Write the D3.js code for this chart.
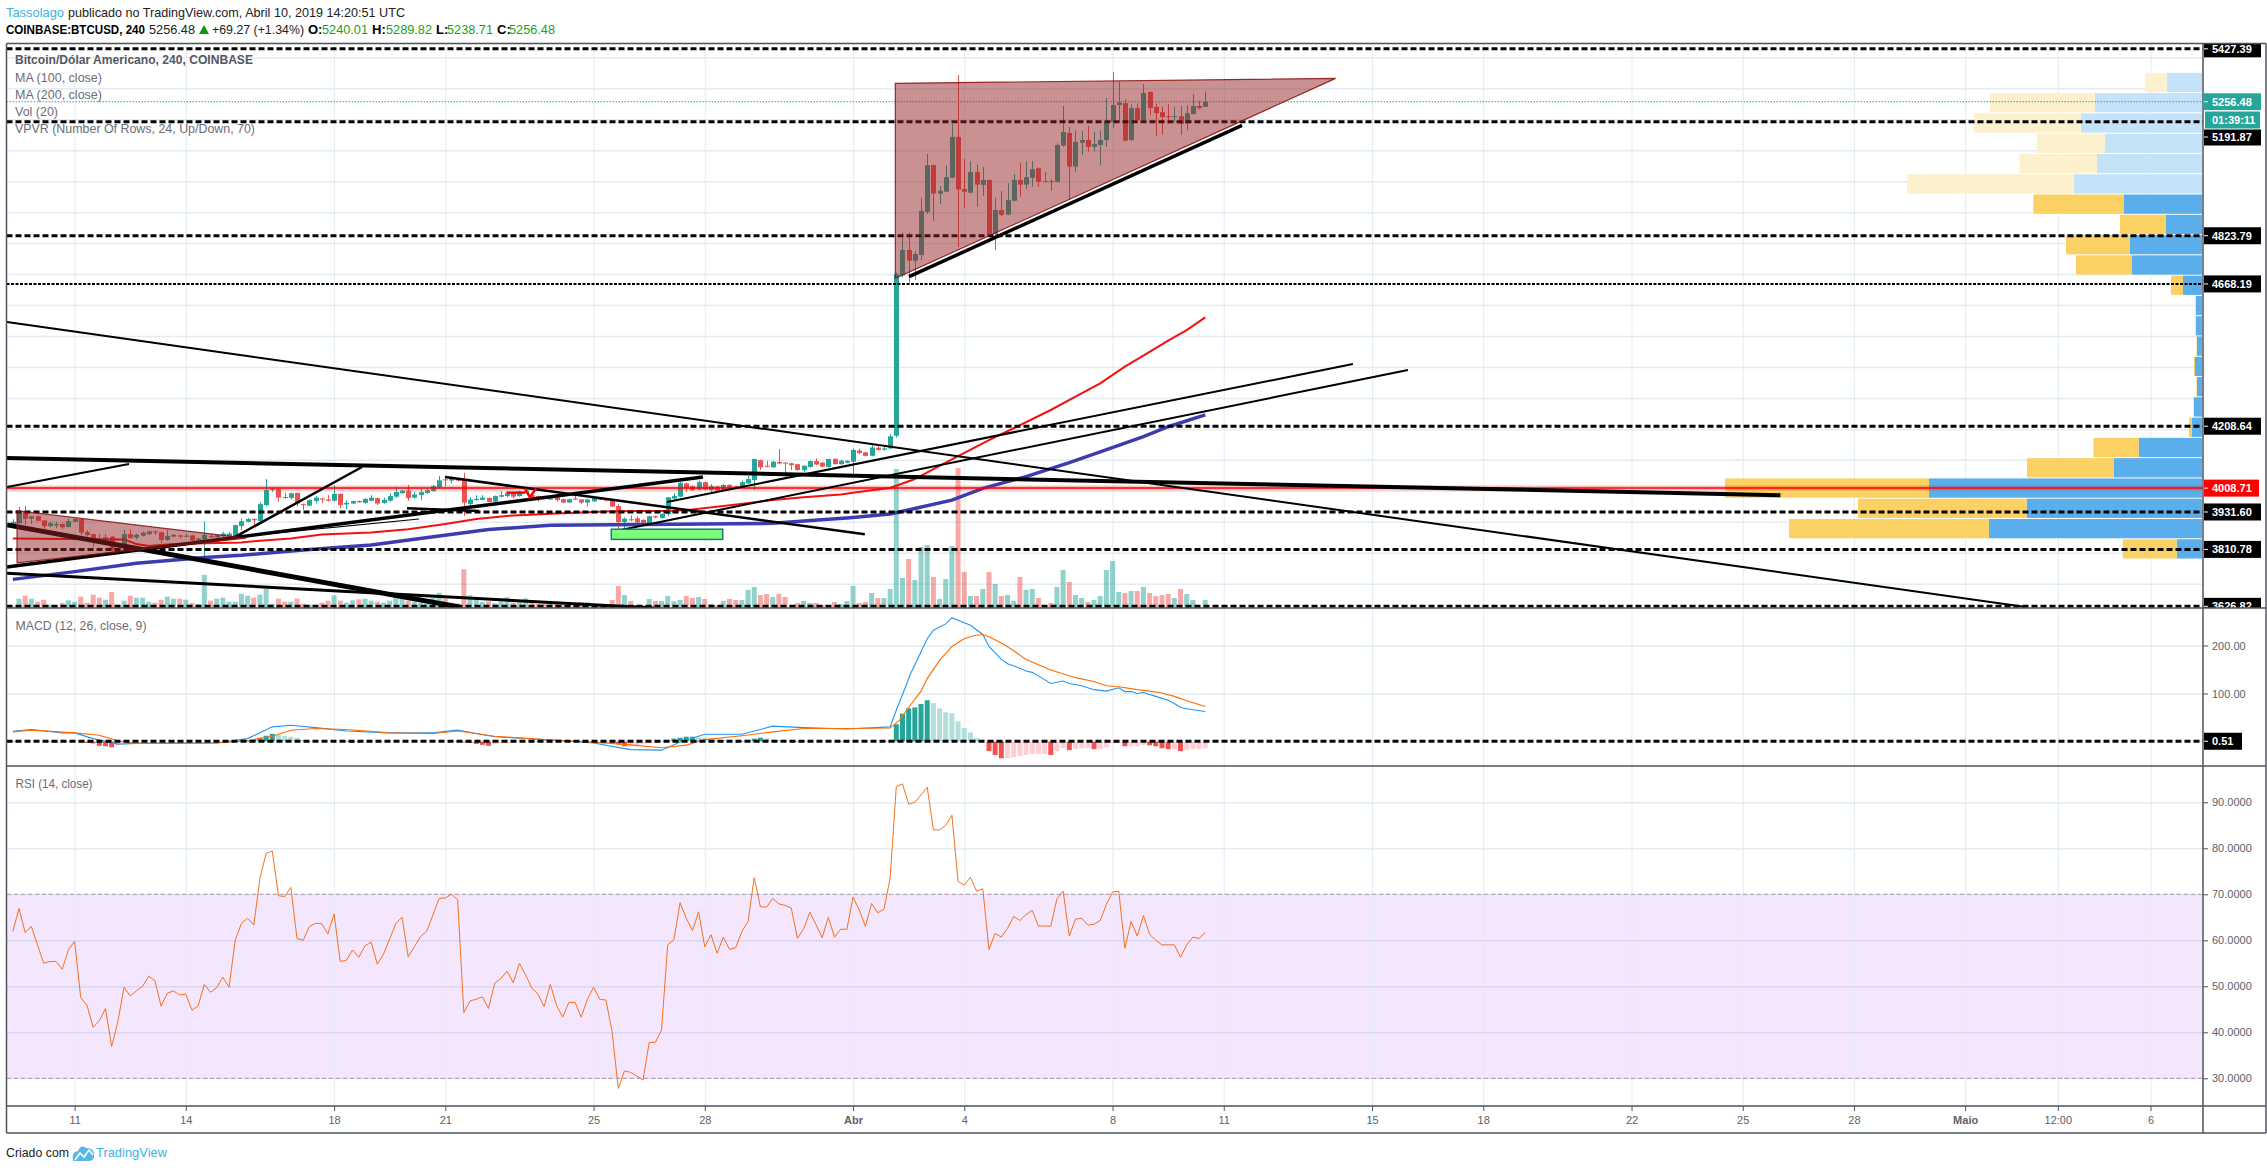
<!DOCTYPE html>
<html>
<head>
<meta charset="utf-8">
<script src="https://cdn.jsdelivr.net/npm/d3@7"></script>
<style>
  html, body { margin: 0; padding: 0; background: #fff; }
  svg text { font-family: "Liberation Sans", Arial, sans-serif; }
  .tick text { font-size: 11px; fill: #5d606b; }
  .grid .domain, .ax .domain { display: none; }
  .grid line { stroke: #e3ecf2; stroke-width: 1.5; }
  .ax line { stroke: #50535e; }
</style>
</head>
<body>
<svg id="chart" width="2267" height="1170"></svg>
<script>
// 4h bars, first one is Mar 9 08:00 UTC
const firstBar = Date.UTC(2019, 2, 9, 8);

const opens = [
  3893,3895,3932,3910,3918,3904,3886,3888,3893,3883,
  3900,3909,3867,3860,3845,3839,3852,3814,3826,3860,
  3849,3855,3860,3869,3866,3841,3852,3856,3853,3856,
  3839,3843,3854,3850,3854,3854,3854,3886,3900,3909,
  3902,3954,4003,4006,3980,3977,3993,3957,3952,3967,
  3975,3972,3968,3990,3956,3959,3967,3961,3968,3976,
  3961,3968,3981,3992,4001,3978,3986,3993,3999,4011,
  4037,4033,4038,4035,3957,3970,3971,3977,3965,3981,
  3983,3992,3983,3992,3986,3983,3979,3972,3979,3973,
  3962,3975,3972,3962,3966,3974,3972,3970,3951,3899,
  3908,3911,3906,3896,3918,3912,3925,3975,3981,4024,
  4015,4004,4028,4002,4014,4002,4019,4015,4013,4024,
  4035,4099,4081,4076,4093,4091,4089,4086,4067,4077,
  4096,4091,4077,4103,4086,4091,4094,4130,4124,4113,
  4139,4133,4137,4178,4696,4778,4743,4762,4901,5052,
  4960,4966,5011,5143,4975,4963,5030,4988,5004,4829,
  4907,4892,4937,5004,4989,5011,5042,5000,5000,4998,
  5115,5156,5047,5124,5133,5111,5117,5133,5191,5246,
  5252,5133,5236,5197,5288,5240,5223,5210,5207,5210,
  5187,5217,5243,5240];
const highs = [
  3908,3948,3951,3918,3920,3906,3900,3900,3895,3911,
  3910,3911,3873,3862,3860,3860,3854,3818,3873,3875,
  3862,3868,3870,3871,3868,3873,3860,3858,3862,3858,
  3848,3902,3860,3860,3868,3868,3891,3911,3912,3911,
  3962,4038,4011,4008,3994,3994,3995,3959,3972,3984,
  3977,3986,4018,3992,3970,3968,3969,3976,3986,3978,
  3978,3992,4013,4003,4019,3997,4006,4008,4019,4048,
  4045,4048,4043,4058,3979,3986,3986,3979,3985,3999,
  3997,3994,4000,4005,3988,3985,3981,3983,3981,3975,
  3975,3983,3974,3974,3981,3977,3974,3972,3957,3914,
  3921,3918,3908,3920,3920,3927,3980,3992,4028,4026,
  4017,4033,4030,4021,4016,4022,4021,4017,4033,4048,
  4103,4101,4097,4096,4135,4093,4091,4088,4083,4098,
  4105,4093,4103,4105,4100,4099,4137,4136,4126,4148,
  4148,4142,4183,4705,4834,4834,4775,4946,5088,5054,
  4984,5051,5185,5343,5072,5065,5055,5046,5006,4946,
  4968,4993,5023,5059,5065,5065,5044,5030,5007,5122,
  5243,5175,5165,5162,5178,5159,5165,5269,5353,5321,
  5264,5248,5251,5314,5290,5251,5240,5249,5240,5243,
  5246,5281,5259,5290];
const lows = [
  3890,3893,3889,3893,3902,3875,3882,3879,3875,3882,
  3899,3857,3852,3819,3839,3832,3805,3806,3809,3846,
  3843,3853,3858,3857,3830,3838,3850,3846,3850,3838,
  3837,3782,3848,3848,3851,3851,3852,3873,3898,3889,
  3900,3950,3996,3965,3975,3972,3949,3938,3950,3959,
  3961,3965,3965,3943,3941,3957,3961,3959,3966,3954,
  3958,3965,3978,3990,3968,3975,3970,3990,3997,4009,
  4015,4024,4030,3919,3951,3968,3969,3962,3963,3978,
  3979,3976,3981,3990,3972,3965,3972,3970,3965,3960,
  3960,3970,3957,3949,3964,3970,3966,3947,3862,3875,
  3902,3893,3895,3894,3912,3910,3918,3972,3979,3997,
  4000,4002,4002,3997,3998,4000,4005,4007,4011,4022,
  4003,4067,4076,4074,4085,4046,4067,4065,4061,4075,
  4083,4076,4075,4085,4084,4089,4056,4119,4111,4111,
  4130,4129,4135,4172,4689,4672,4681,4745,4894,4872,
  4926,4964,5009,4788,4913,4961,4918,4953,4826,4778,
  4887,4890,4935,4950,4975,4982,4982,4997,4969,4996,
  5111,4939,5031,5084,5095,5095,5052,5111,5172,5193,
  5129,5131,5189,5195,5214,5146,5150,5185,5192,5149,
  5165,5215,5232,5239];
const closes = [
  3900,3932,3909,3918,3903,3886,3895,3893,3882,3902,
  3909,3865,3857,3843,3843,3850,3809,3811,3860,3847,
  3858,3865,3869,3865,3841,3854,3858,3852,3855,3839,
  3846,3858,3850,3857,3862,3862,3889,3902,3909,3905,
  3957,4003,4006,3978,3977,3992,3959,3954,3970,3978,
  3972,3968,3990,3954,3961,3967,3963,3974,3978,3959,
  3971,3983,3996,4001,3977,3988,3996,4002,4015,4034,
  4034,4040,4033,3962,3972,3974,3978,3964,3983,3986,
  3992,3981,3998,4000,3979,3977,3976,3981,3970,3962,
  3973,3972,3962,3972,3979,3972,3968,3949,3899,3910,
  3905,3898,3897,3918,3914,3925,3979,3983,4026,4009,
  4002,4028,4004,4015,4000,4019,4007,4009,4028,4038,
  4103,4076,4078,4094,4088,4088,4083,4067,4081,4096,
  4085,4078,4103,4086,4097,4097,4132,4122,4113,4140,
  4132,4137,4176,4700,4778,4743,4765,4904,5052,4960,
  4969,5013,5143,4973,4966,5030,4989,5004,4826,4907,
  4891,4939,5004,4989,5013,5039,4998,4997,4998,5117,
  5159,5047,5127,5133,5111,5120,5133,5193,5246,5254,
  5131,5236,5197,5285,5236,5220,5207,5207,5210,5185,
  5220,5243,5236,5256];
const volumes = [
  1.5,9.3,12.3,9.3,6.3,8.3,3.3,2.3,5,7.7,
  6.3,11.3,5.3,13.3,10.3,8.3,16,3.3,7.3,12.3,
  10.3,10.3,6.3,5.3,8.3,11.3,9.3,9.3,8.3,5,
  4,33.3,7.3,9.3,10.3,6.3,6.3,14.3,12.3,10.3,
  13.3,19.3,4.3,9.3,6.3,6.3,9.3,4.3,3.3,3.3,
  5.3,7.3,12.7,7.3,5.3,7.7,8.7,9.3,7.3,6.3,
  5.3,7.3,11.3,9.3,7.3,6.3,5.3,4.3,10.3,15.3,
  9.3,5.3,4.7,38.7,12.7,8,6,6.7,4.7,6.7,
  10.7,5.3,5.7,9.7,4.7,4,4,4,4,2.7,
  3,3.7,5.7,5.7,4,3.3,3.3,8,22,13,
  7,2.7,2.7,9,7,7,12,6.7,8,12,
  10,11,9,4,2.7,7,9,8,8,18,
  21,13,14,11,14,11,3,5,7,5,
  5,3,3,6,4,7,22,5,6,15,
  10,10,19,139,30,49,28,61,63,31,
  9,29,62,140,36,12,12,19,36,24,
  12,13,7,31,18,19,10,1.3,5,21,
  38,26,13,10,6,8,12,38,47,16,
  15,17,17,21,15,12,13,14,10,19,
  14,8,1.3,8];
const rsiValues = [
  61.9,66.9,61.7,63,59,55,55.4,55.4,53.7,57.9,
  59.8,47.5,45.9,41.1,42.5,45.2,36.9,42.3,49.8,47.9,
  49,50,52.2,51.2,45.7,48.5,49,48.1,48.3,44.8,
  45.8,50.4,48.7,49.7,52,49.8,60,63.7,64.8,63.3,
  73.5,78.9,79.4,69.7,69.5,71.5,60.4,60,63,63.7,
  63.6,61.4,65.7,55.4,55.7,57.9,56.3,58.8,59.6,54.8,
  57,60.3,63.7,65,56.4,58.6,60.8,62,65.5,69.1,
  69.2,70,68.8,44.3,46.8,47.2,47.7,45.2,50.7,51.7,
  53.3,50.8,55,52.5,49.6,48.3,45.6,50.4,45.9,43.3,
  46.5,46.5,43.3,47.2,49.8,47.2,47,40.1,27.8,31.6,
  31.3,30.5,29.6,37.8,37.8,40.5,59,60.1,68.2,64.8,
  62.1,66.2,58.6,61.2,57.2,60.7,58,58.4,61.9,64.1,
  73.6,67.3,67.2,69.1,67.9,67.6,67,60.4,62.5,66.1,
  63.4,60.6,65,60.7,62.4,62.4,69.4,66.6,63,68,
  66,66.7,73.5,93.4,94,89.6,90,91.6,93.3,84,
  84,85,87.2,72.8,72,73.7,70.7,71.2,58,61.5,
  60.7,62.6,65.2,64.3,65.6,66.5,63.1,63.1,63.1,69,
  70.7,60.9,64.6,64.8,63.3,63.5,64.3,67.8,70.5,70.7,
  58.3,64.1,60.9,65.4,61.3,60,59,59,59,56.3,
  59,60.7,60.4,61.7];
const macdHist = [
  1,0,0,0,0,0,-1,-2,-2,-2,
  -1,-2,-3,-4,-9,-10,-12,-7,-3,-1,
  0,0,0,0,0,0,0,0,0,0,
  0,0,0,0,0,0,0,2,3,4,
  8,12,16,14,12,10,8,3,1,0,
  0,0,0,0,-1,-2,-2,-2,-1,-1,
  -1,-1,0,0,0,0,0,0,0,0,
  0,0,-1,-2,-3,-5,-7,-9,-5,-4,
  -4,-2,-1,0,0,-1,-1,-2,-1,0,
  0,0,0,0,0,0,-1,-2,-6,-10,
  -10,-10,-6,-3,-2,-1,2,6,8,10,
  10,9,8,6,4,3,2,1,1,2,
  6,8,7,4,3,2,1,1,1,0,
  0,0,0,0,-1,-1,0,0,0,0,
  0,1,2,36,58,69,71,78,86,80,
  69,61,59,42,28,19,7,0,-20,-28,
  -35,-35,-33,-30,-28,-26,-26,-26,-28,-20,
  -14,-18,-16,-14,-14,-16,-16,-12,-4,-3,
  -10,-10,-10,-7,-8,-10,-14,-16,-16,-20,
  -18,-16,-16,-14];

// these lines were read at their bends only: [bar, value]
const ma100 = [[0,3846],[18,3843],[20,3828],[22,3822],[26,3828],[37,3833],[40,3839],[45,3846],[50,3859],[58,3865],[64,3876],[70,3893],[75,3909],[80,3919],[88,3927],[97,3934],[107,3936],[110,3940],[115,3951],[123,3970],[128,3979],[134,3988],[136,3994],[139,4002],[142,4009],[146,4038],[149,4070],[153,4112],[158,4164],[162,4202],[168,4261],[172,4304],[176,4347],[180,4401],[184,4449],[187,4485],[190,4519],[193,4560]];
const ma200 = [[0,3714],[10,3739],[20,3766],[31,3785],[37,3792],[47,3809],[58,3825],[69,3854],[77,3875],[87,3889],[107,3892],[123,3895],[136,3914],[142,3925],[146,3943],[152,3970],[157,4008],[164,4046],[171,4091],[176,4126],[183,4175],[187,4207],[193,4245]];
const macdLine = [[0,21.5],[3,25],[8,18],[10,18],[13,6],[17,-5.5],[20,-4],[26,-3],[33,-3],[38,6],[42,30.5],[45,34],[49,29],[54,22],[61,18],[68,18],[72,23.6],[78,10],[86,4],[94,-3],[100,-17],[105,-18],[108,-1],[112,15],[118,15],[123,32],[128,29],[135,26],[142,30.5],[143,65],[144.5,114],[145.3,141],[146.6,176],[148,214],[149,232],[151,245],[152,258],[153.3,251],[155,242],[157,223],[158,198],[160,171],[161,162],[162.5,155],[164,147],[165,144],[166.6,132],[168,121],[170,126],[171,121],[173,116],[175,108],[177,105],[179,112],[180,104],[181,104],[182,100],[183,102],[185,94],[187,86],[188,79],[189,71],[191,66],[193,62.5]];
const macdSignal = [[0,20],[3,23.6],[10,18],[14,13],[17,1.4],[20,-4],[26,-4],[33,-3],[38,1.4],[42,11],[45,23.6],[49,27],[54,25],[61,18],[68,16.6],[72,22],[78,11],[86,4],[94,-1.4],[100,-7],[105,-13],[109,-7.6],[112,4],[118,12],[123,20],[128,27],[135,27],[142,28],[143.5,44],[145.3,76],[147,105],[148,131],[150,169],[152,198],[154,214],[155.6,221],[157,223],[158,218],[160.3,203],[162,189],[164,171],[168,149],[172,133],[175,125],[177,116],[179,114],[182,108],[184,105],[186,101],[188,94],[190,85],[193,73]];

// VPVR rows from top to bottom
const vpUp = [35.3,107,121.3,97.3,105,128,78,36,72.3,70,19,6,6,5,7,5,8,10,63.3,88,273,175.4,213,25.3];
const vpDown = [21.4,105,106.7,67.7,77.7,167,90.7,46,63.7,56,12,0.5,0.5,0.5,1,0.5,0.5,3,45.2,87,204,168.6,200,53.9];
const vpTopPrice = 5350, vpRowSize = 65.5, vpFadedRows = 6;

// levels drawn on the chart
const levelPrices = [5427.39, 5191.87, 4823.79, 4208.64, 3931.60, 3810.78, 3626.82];
const thinLevel = 4668.19, redLevel = 4008.71, lastPrice = 5256.48, macdLevel = 0.51;

// user drawings, [bar, price] ends and stroke width
const trendLines = [
  [[-0.94,4106],[286.1,3986],4],
  [[-0.94,4012],[18.81,4086.5],2],
  [[35.97,3851],[56.52,4077],2.5],
  [[-0.94,3754],[111.7,4044.5],3.5],
  [[36.1,3851],[65.75,3909],1.2],
  [[63.8,3944],[75.46,3935],2.5],
  [[69.96,4044.5],[137.9,3860],2.5],
  [[-0.94,3890],[72.2,3625],5],
  [[-0.94,3734],[103.8,3621.5],3],
  [[-0.94,4545],[325.8,3625],2],
  [[105.9,3964],[216.9,4409.5],2],
  [[97,3868],[225.8,4390],2],
  [[145.06,4691.5],[198.96,5180.5],3.5]
];
const triangles = [
  [[0.68,3936],[0.68,3767],[37.75,3847.5]],
  [[142.84,5316],[142.84,4686],[214.1,5332]]
];
const greenBox = [[96.87,3876],[114.9,3843]];
const redArrow = [[[79.9,3994],[82.9,3994]],[[82.9,4008],[83.7,3979],[84.7,4008]]];

// axis labels
const priceTicks = [3700,3800,3900,4000,4100,4200,4300,4400,4500,4600,4700,4800,4900,5000,5100,5200,5300,5400];
const macdTicks = [100,200];
const rsiTicks = [30,40,50,60,70,80,90];
const timeTicks = [
  [Date.UTC(2019,2,11),"11"],[Date.UTC(2019,2,14),"14"],[Date.UTC(2019,2,18),"18"],[Date.UTC(2019,2,21),"21"],
  [Date.UTC(2019,2,25),"25"],[Date.UTC(2019,2,28),"28"],[Date.UTC(2019,3,1),"Abr"],[Date.UTC(2019,3,4),"4"],
  [Date.UTC(2019,3,8),"8"],[Date.UTC(2019,3,11),"11"],[Date.UTC(2019,3,15),"15"],[Date.UTC(2019,3,18),"18"],
  [Date.UTC(2019,3,22),"22"],[Date.UTC(2019,3,25),"25"],[Date.UTC(2019,3,28),"28"],[Date.UTC(2019,4,1),"Maio"],
  [Date.UTC(2019,4,3,12),"12:00"],[Date.UTC(2019,4,6),"6"]
];

const UP = "#26a69a", DOWN = "#ef5350";

// layout
const left = 6.5, axisX = 2203, right = 2266;
const mainTop = 43.5, mainBottom = 608, macdBottom = 766, rsiBottom = 1106, timeBottom = 1133;

const svg = d3.select("#chart");

const x = d3.scaleUtc()
  .domain([Date.UTC(2019,2,11), Date.UTC(2019,4,6)])
  .range([74.6, 2150.5]);
const barX = i => x(firstBar + i * 4 * 3600 * 1000);
const barW = 5;

const yPrice = d3.scaleLinear().domain([5300, 3700]).range([88.3, 583.7]);
const yVol = d3.scaleLinear().domain([0, 140]).range([mainBottom, mainBottom - 140]);
const yMacd = d3.scaleLinear().domain([0, 200]).range([741.5, 645.5]);
const yRsi = d3.scaleLinear().domain([30, 90]).range([1078.3, 802.3]);

// clips for the panes
const defs = svg.append("defs");
function addClip(id, x0, y0, x1, y1) {
  defs.append("clipPath").attr("id", id).append("rect")
    .attr("x", x0).attr("y", y0).attr("width", x1 - x0).attr("height", y1 - y0);
}
addClip("mainClip", left, mainTop, axisX, mainBottom);
addClip("macdClip", left, mainBottom, axisX, macdBottom);
addClip("mainAxisClip", axisX, mainTop, right, mainBottom);

// rsi band goes under everything
svg.append("rect")
  .attr("x", left).attr("width", axisX - left)
  .attr("y", yRsi(70)).attr("height", yRsi(30) - yRsi(70))
  .attr("fill", "#f4e6fd");

// vertical grid
const timeVals = timeTicks.map(d => d[0]);
[[mainTop, mainBottom], [mainBottom, macdBottom], [macdBottom, rsiBottom]].forEach(p => {
  svg.append("g").attr("class", "grid")
    .attr("transform", `translate(0,${p[1]})`)
    .call(d3.axisBottom(x).tickValues(timeVals).tickSize(-(p[1] - p[0])).tickFormat(""))
    .selectAll("line").style("stroke-width", 1);
});

// horizontal grid
function hGrid(scale, ticks) {
  return svg.append("g").attr("class", "grid")
    .attr("transform", `translate(${axisX},0)`)
    .call(d3.axisLeft(scale).tickValues(ticks).tickSize(axisX - left).tickFormat(""));
}
hGrid(yPrice, priceTicks);
hGrid(yMacd, macdTicks);
hGrid(yRsi, rsiTicks.filter(d => d != 30 && d != 70)).selectAll("line")
  .style("stroke", d => d < 70 ? "#d9d6f4" : "#e3ecf2");

// rsi band limits
[70, 30].forEach(v => {
  svg.append("line").attr("x1", left).attr("x2", axisX)
    .attr("y1", yRsi(v)).attr("y2", yRsi(v))
    .attr("stroke", "#b5a6ba").attr("stroke-width", 1.2).attr("stroke-dasharray", "5 2");
});

const main = svg.append("g").attr("clip-path", "url(#mainClip)");

// volume profile, stuck to the right side
const vpX = d3.scaleLinear().domain([0, 477]).range([0, 477]);
const vpG = main.append("g");
vpUp.forEach((up, r) => {
  const rowTop = yPrice(vpTopPrice - r * vpRowSize);
  const rowH = yPrice(vpTopPrice - (r + 1) * vpRowSize) - rowTop - 1;
  const faded = r < vpFadedRows;
  vpG.append("rect")
    .attr("x", axisX - 1 - vpX(up)).attr("width", vpX(up))
    .attr("y", rowTop).attr("height", rowH)
    .attr("fill", faded ? "#c5e3f8" : "#5aaeeb");
  vpG.append("rect")
    .attr("x", axisX - 1 - vpX(up) - vpX(vpDown[r])).attr("width", vpX(vpDown[r]))
    .attr("y", rowTop).attr("height", rowH)
    .attr("fill", faded ? "#fdf0cd" : "#fbd164");
});

// volume bars
main.append("g").selectAll("rect")
  .data(volumes)
  .join("rect")
  .attr("x", (d, i) => barX(i) - barW / 2)
  .attr("y", d => yVol(d))
  .attr("width", barW)
  .attr("height", d => yVol(0) - yVol(d))
  .attr("fill", (d, i) => closes[i] >= opens[i] ? UP : DOWN)
  .attr("opacity", 0.5);

// candles
const candles = main.append("g").selectAll("g")
  .data(opens)
  .join("g")
  .attr("stroke", (d, i) => closes[i] >= opens[i] ? UP : DOWN)
  .attr("fill", (d, i) => closes[i] >= opens[i] ? UP : DOWN);
candles.append("line")
  .attr("x1", (d, i) => Math.round(barX(i)) + 0.5)
  .attr("x2", (d, i) => Math.round(barX(i)) + 0.5)
  .attr("y1", (d, i) => yPrice(highs[i]))
  .attr("y2", (d, i) => yPrice(lows[i]));
candles.append("rect")
  .attr("stroke", "none")
  .attr("x", (d, i) => Math.round(barX(i)) + 0.5 - barW / 2)
  .attr("width", barW)
  .attr("y", (d, i) => yPrice(Math.max(opens[i], closes[i])))
  .attr("height", (d, i) => Math.max(1, Math.abs(yPrice(opens[i]) - yPrice(closes[i]))));

// moving averages
const priceLine = d3.line().x(d => barX(d[0])).y(d => yPrice(d[1]));
main.append("path").attr("d", priceLine(ma200)).attr("fill", "none").attr("stroke", "#3c3cb0").attr("stroke-width", 3.5);
main.append("path").attr("d", priceLine(ma100)).attr("fill", "none").attr("stroke", "#f50f0f").attr("stroke-width", 2);

// horizontal levels
function hLevel(parent, y, color, width, dash) {
  parent.append("line").attr("x1", left).attr("x2", axisX)
    .attr("y1", y).attr("y2", y)
    .attr("stroke", color).attr("stroke-width", width)
    .attr("stroke-dasharray", dash);
}
hLevel(main, yPrice(lastPrice), UP, 1, "1.5 1.5");
main.append("line").attr("x1", left).attr("x2", axisX)
  .attr("y1", yPrice(redLevel)).attr("y2", yPrice(redLevel))
  .attr("stroke", "#ff0000").attr("stroke-opacity", 0.25).attr("stroke-width", 5);
hLevel(main, yPrice(redLevel), "#ff0000", 1.5, null);
levelPrices.forEach(p => hLevel(main, yPrice(p), "#000", 3, "6 3"));
hLevel(main, yPrice(thinLevel), "#000", 2, "3 1.5");

// drawings
main.append("g").selectAll("line")
  .data(trendLines)
  .join("line")
  .attr("x1", d => barX(d[0][0])).attr("y1", d => yPrice(d[0][1]))
  .attr("x2", d => barX(d[1][0])).attr("y2", d => yPrice(d[1][1]))
  .attr("stroke", "#000")
  .attr("stroke-width", d => d[2]);
main.append("g").selectAll("path")
  .data(triangles)
  .join("path")
  .attr("d", d => d3.line().x(p => barX(p[0])).y(p => yPrice(p[1]))(d) + "Z")
  .attr("fill", "#932424").attr("fill-opacity", 0.5)
  .attr("stroke", "#8b0d0d").attr("stroke-opacity", 0.85).attr("stroke-width", 1.2);
main.append("rect")
  .attr("x", barX(greenBox[0][0])).attr("width", barX(greenBox[1][0]) - barX(greenBox[0][0]))
  .attr("y", yPrice(greenBox[0][1])).attr("height", yPrice(greenBox[1][1]) - yPrice(greenBox[0][1]))
  .attr("fill", "#7dfc7d").attr("stroke", "#1a7a70").attr("stroke-width", 1.5);
redArrow.forEach(seg => {
  main.append("path").attr("d", priceLine(seg)).attr("fill", "none")
    .attr("stroke", "#f00").attr("stroke-width", 2.5);
});

// macd pane
const macdG = svg.append("g").attr("clip-path", "url(#macdClip)");
macdG.append("g").selectAll("rect")
  .data(macdHist)
  .join("rect")
  .attr("x", (d, i) => barX(i) - barW / 2)
  .attr("width", barW)
  .attr("y", d => yMacd(Math.max(0, d)))
  .attr("height", d => Math.abs(yMacd(d) - yMacd(0)))
  .attr("fill", (d, i) => {
    const prev = i ? macdHist[i - 1] : 0;
    if (d >= 0) return d >= prev ? UP : "#b2dfdb";
    return d < prev ? DOWN : "#ffcdd2";
  });
const macdPath = d3.line().x(d => barX(d[0])).y(d => yMacd(d[1]));
macdG.append("path").attr("d", macdPath(macdLine)).attr("fill", "none").attr("stroke", "#2196f3").attr("stroke-width", 1.1);
macdG.append("path").attr("d", macdPath(macdSignal)).attr("fill", "none").attr("stroke", "#ff6d00").attr("stroke-width", 1.1);
hLevel(macdG, yMacd(macdLevel), "#000", 3, "6 3");

// rsi line
svg.append("path")
  .attr("d", d3.line().x((d, i) => barX(i)).y(d => yRsi(d))(rsiValues))
  .attr("fill", "none").attr("stroke", "#f6711f").attr("stroke-width", 1);

// right axes
svg.append("g").attr("class", "ax").attr("clip-path", "url(#mainAxisClip)")
  .attr("transform", `translate(${axisX},0)`)
  .call(d3.axisRight(yPrice).tickValues(priceTicks).tickSize(5).tickPadding(4).tickFormat(d3.format(".2f")));
svg.append("g").attr("class", "ax")
  .attr("transform", `translate(${axisX},0)`)
  .call(d3.axisRight(yMacd).tickValues(macdTicks).tickSize(5).tickPadding(4).tickFormat(d3.format(".2f")));
svg.append("g").attr("class", "ax")
  .attr("transform", `translate(${axisX},0)`)
  .call(d3.axisRight(yRsi).tickValues(rsiTicks).tickSize(5).tickPadding(4).tickFormat(d3.format(".4f")));

// time axis
svg.append("g").attr("class", "ax")
  .attr("transform", `translate(0,${rsiBottom})`)
  .call(d3.axisBottom(x).tickValues(timeVals).tickSize(5).tickPadding(5)
    .tickFormat(d => timeTicks.find(t => t[0] == +d)[1]))
  .selectAll("text")
  .style("font-weight", d => (d == timeTicks[6][0] || d == timeTicks[15][0]) ? "bold" : "normal");

// price labels on the axis
const labelG = svg.append("g").attr("clip-path", "url(#mainAxisClip)");
function priceLabel(parent, v, color, labelY, txt, w) {
  parent.append("rect").attr("x", axisX + 1).attr("y", labelY - 8.5).attr("width", w).attr("height", 17).attr("fill", color);
  parent.append("line").attr("x1", axisX).attr("x2", axisX + 5).attr("y1", labelY).attr("y2", labelY).attr("stroke", "#fff");
  parent.append("text").attr("x", axisX + 9).attr("y", labelY + 4)
    .attr("fill", "#fff").attr("font-size", 11).attr("font-weight", "bold").text(txt);
}
levelPrices.concat([thinLevel]).forEach(p => {
  // 5191.87 gets pushed down by the countdown box
  const ly = p == 5191.87 ? 137 : yPrice(p);
  priceLabel(labelG, p, "#000", ly, d3.format(".2f")(p), 57);
});
priceLabel(labelG, redLevel, "#f00", yPrice(redLevel), d3.format(".2f")(redLevel), 55);
priceLabel(labelG, lastPrice, UP, yPrice(lastPrice), d3.format(".2f")(lastPrice), 57);
priceLabel(svg, macdLevel, "#000", yMacd(macdLevel), d3.format(".2f")(macdLevel), 38);
labelG.append("rect").attr("x", axisX + 1.5).attr("y", 111).attr("width", 56).attr("height", 18)
  .attr("fill", UP).attr("stroke", "#fff");
labelG.append("text").attr("x", axisX + 9).attr("y", 124).attr("fill", "#fff")
  .attr("font-size", 11).attr("font-weight", "bold").text("01:39:11");

// frame
const frameCol = "#50535e";
[[left, mainTop, right, mainTop], [left, mainBottom, right, mainBottom], [left, macdBottom, right, macdBottom],
 [left, rsiBottom, right, rsiBottom], [left, timeBottom, right, timeBottom],
 [left, mainTop, left, timeBottom], [axisX, mainTop, axisX, timeBottom], [right, mainTop, right, timeBottom]]
  .forEach(d => {
    svg.append("line").attr("x1", d[0]).attr("y1", d[1]).attr("x2", d[2]).attr("y2", d[3])
      .attr("stroke", frameCol).attr("stroke-width", 1.5);
  });

// header and legends
function label(x0, y0, txt, color, size, weight, len) {
  const t = svg.append("text").attr("x", x0).attr("y", y0).attr("fill", color)
    .attr("font-size", size).attr("font-weight", weight || "normal").text(txt);
  if (len) t.attr("textLength", len).attr("lengthAdjust", "spacingAndGlyphs");
  return t;
}
label(6, 17, "Tassolago", "#3bb3e4", 13, null, 58);
label(68, 17, "publicado no TradingView.com, Abril 10, 2019 14:20:51 UTC", "#222", 13, null, 337);
label(6, 34, "COINBASE:BTCUSD, 240", "#000", 13, "bold", 139);
label(149, 34, "5256.48", "#222", 13, null, 46);
svg.append("path").attr("d", "M199 34 L204 25 L209 34 Z").attr("fill", "#0a9b0a");
label(212, 34, "+69.27 (+1.34%)", "#222", 13, null, 92);
[["O:", 308, "5240.01", 322], ["H:", 372, "5289.82", 386], ["L:", 436, "5238.71", 447], ["C:", 497, "5256.48", 509]]
  .forEach(d => {
    label(d[1], 34, d[0], "#000", 13, "bold");
    label(d[3], 34, d[2], "#14a514", 13, null, 46);
  });

const legendCol = "#6a6d78";
label(15, 64, "Bitcoin/Dólar Americano, 240, COINBASE", "#555862", 13, "bold", 238);
label(15, 82, "MA (100, close)", legendCol, 13, null, 87);
label(15, 99, "MA (200, close)", legendCol, 13, null, 87);
label(15, 116, "Vol (20)", legendCol, 13, null, 43);
label(15, 133, "VPVR (Number Of Rows, 24, Up/Down, 70)", legendCol, 13, null, 240);
label(15.5, 630, "MACD (12, 26, close, 9)", legendCol, 13, null, 131);
label(15.5, 788, "RSI (14, close)", legendCol, 13, null, 77);

// footer
label(6, 1157, "Criado com", "#222", 13, null, 63);
svg.append("path")
  .attr("d", "M73 1161 q-2 -9 5 -10 q3 -7 8 -3 q7 -1 8 6 q1 7 -5 7 Z")
  .attr("fill", "#55b8e8");
svg.append("path")
  .attr("d", "M75 1160 L80 1153 L84 1157 L89 1150 L93 1155")
  .attr("fill", "none").attr("stroke", "#fff").attr("stroke-width", 1.5);
label(96, 1157, "TradingView", "#3bb3e4", 13, null, 71);
</script>
</body>
</html>
